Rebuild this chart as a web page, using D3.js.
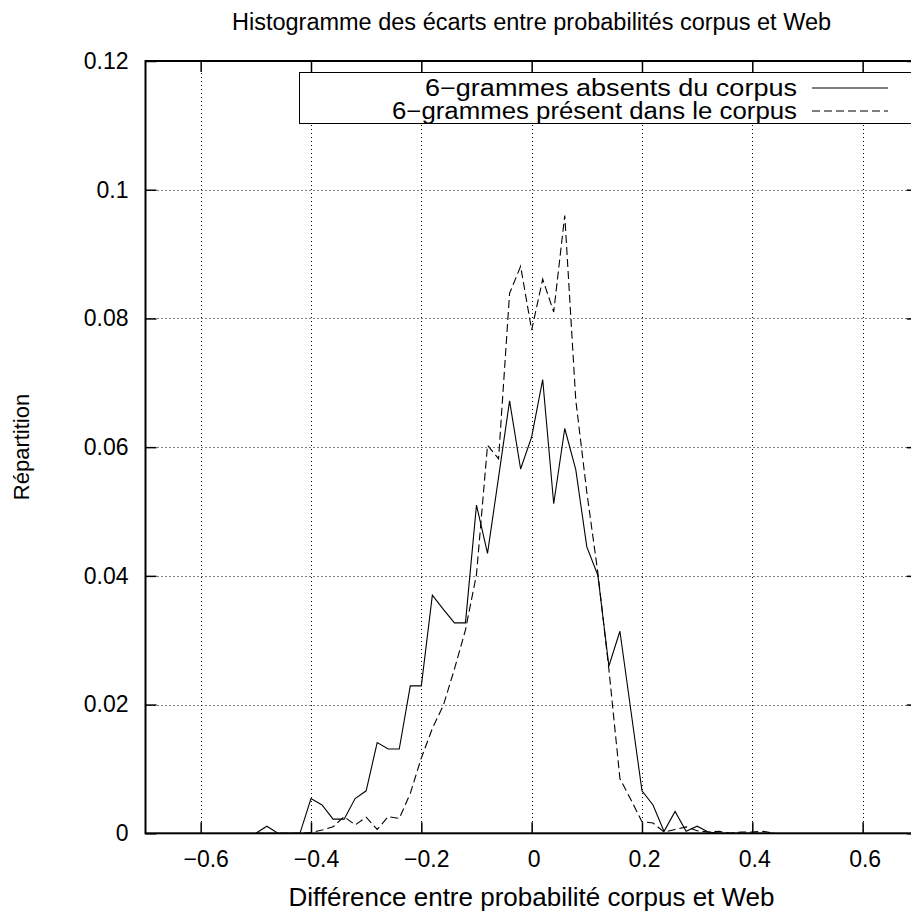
<!DOCTYPE html>
<html>
<head>
<meta charset="utf-8">
<script src="https://cdn.jsdelivr.net/npm/d3@7"></script>
<style>
  html, body { margin: 0; padding: 0; background: #fff; }
  svg { display: block; }
  text { font-family: "Liberation Sans", Arial, Helvetica, sans-serif; fill: #000; }
</style>
</head>
<body>
<svg id="chart" width="911" height="911"></svg>
<script>
// ---- data ----
const bins = [-0.50,-0.48,-0.46,-0.44,-0.42,-0.40,-0.38,-0.36,-0.34,-0.32,-0.30,-0.28,-0.26,-0.24,-0.22,-0.20,-0.18,-0.16,-0.14,-0.12,-0.10,-0.08,-0.06,-0.04,-0.02,0.00,0.02,0.04,0.06,0.08,0.10,0.12,0.14,0.16,0.18,0.20,0.22,0.24,0.26,0.28,0.30,0.32,0.34,0.36,0.38,0.40,0.42,0.44];
const absents = [0,0.0011,0,0,0,0.0054,0.0044,0.0022,0.0022,0.0054,0.0066,0.0141,0.0131,0.0131,0.0229,0.0229,0.0370,0.0348,0.0327,0.0327,0.0510,0.0435,0.0553,0.0672,0.0566,0.0616,0.0705,0.0512,0.0629,0.0565,0.0445,0.0401,0.0260,0.0314,0.0190,0.0066,0.0044,0.0003,0.0034,0.0003,0.0011,0.0002,0,0,0,0,0,0];
const presents = [0,0,0,0,0,0.0001,0.0005,0.0010,0.0026,0.0013,0.0025,0.0006,0.0026,0.0023,0.0062,0.0117,0.0163,0.0199,0.0255,0.0316,0.0402,0.0603,0.0582,0.0839,0.0881,0.0782,0.0861,0.0810,0.0960,0.0673,0.0530,0.0405,0.0255,0.0085,0.0052,0.0018,0.0016,0.0002,0.0006,0.0010,0.0004,0.0002,0.0003,0,0.0002,0.0002,0.0003,0];
const xTicks = [-0.6,-0.4,-0.2,0,0.2,0.4,0.6];
const xTickLabels = ["\u22120.6","\u22120.4","\u22120.2","0","0.2","0.4","0.6"];
const yTicks = [0,0.02,0.04,0.06,0.08,0.1,0.12];
const yTickLabels = ["0","0.02","0.04","0.06","0.08","0.1","0.12"];
const seriesNames = ["6\u2212grammes absents du corpus","6\u2212grammes présent dans le corpus"];
const titleText = "Histogramme des écarts entre probabilités corpus et Web";
const xLabel = "Différence entre probabilité corpus et Web";
const yLabel = "Répartition";

// ---- layout ----
const svg = d3.select("#chart");
const L = 145.5, R = 917.8, T = 61, B = 833.3;
const x = d3.scaleLinear().domain([-0.7, 0.7]).range([L, R]);
const y = d3.scaleLinear().domain([0, 0.12]).range([B, T]);

// grid
const grid = svg.append("g").attr("stroke", "#000").attr("stroke-width", 1).attr("stroke-dasharray", "1,3");
grid.selectAll("line.v").data(xTicks).join("line")
  .attr("x1", d => Math.round(x(d)) + 0.5).attr("x2", d => Math.round(x(d)) + 0.5)
  .attr("y1", T).attr("y2", B);
grid.selectAll("line.h").data(yTicks.slice(1, -1)).join("line")
  .attr("y1", d => Math.round(y(d)) + 0.5).attr("y2", d => Math.round(y(d)) + 0.5)
  .attr("x1", L).attr("x2", R);

// axes (inward ticks)
const tickLen = 11;
const axB = svg.append("g").attr("transform", `translate(0,${B})`)
  .call(d3.axisBottom(x).tickValues(xTicks).tickSize(-tickLen).tickPadding(tickLen + 6).tickFormat((d, i) => xTickLabels[i]));
const axT = svg.append("g").attr("transform", `translate(0,${T})`)
  .call(d3.axisTop(x).tickValues(xTicks).tickSize(-tickLen).tickFormat(""));
const axL = svg.append("g").attr("transform", `translate(${L},0)`)
  .call(d3.axisLeft(y).tickValues(yTicks).tickSize(-tickLen).tickPadding(tickLen + 6).tickFormat((d, i) => yTickLabels[i]));
const axR = svg.append("g").attr("transform", `translate(${R},0)`)
  .call(d3.axisRight(y).tickValues(yTicks).tickSize(-tickLen).tickFormat(""));
[axB, axT, axL, axR].forEach(a => {
  a.select(".domain").remove();
  a.selectAll(".tick line").attr("stroke", "#000").attr("stroke-width", 1.5);
  a.selectAll("text").attr("font-size", 23).attr("font-family", "Liberation Sans, Arial, sans-serif").attr("fill", "#000");
});
axB.selectAll(".tick text").attr("dx", d => d < 0 ? 5 : 2);

// frame
svg.append("rect").attr("x", L).attr("y", T).attr("width", R - L).attr("height", B - T)
  .attr("fill", "none").attr("stroke", "#000").attr("stroke-width", 2);

// lines
const line = d3.line().x(d => x(d[0])).y(d => y(d[1]));
svg.append("path").datum(bins.map((b, i) => [b, absents[i]]))
  .attr("d", line).attr("fill", "none").attr("stroke", "#000").attr("stroke-width", 1.1);
svg.append("path").datum(bins.map((b, i) => [b, presents[i]]))
  .attr("d", line).attr("fill", "none").attr("stroke", "#000").attr("stroke-width", 1.1).attr("stroke-dasharray", "8,4");

// legend
const lg = svg.append("g");
lg.append("rect").attr("x", 299.5).attr("y", 72.5).attr("width", 640).attr("height", 51)
  .attr("fill", "#fff").attr("stroke", "#000").attr("stroke-width", 1);
const rows = [88, 111];
const legendWidths = [372, 405];
seriesNames.forEach((name, i) => {
  lg.append("text").attr("x", 797).attr("y", rows[i]).attr("dy", "0.35em").attr("text-anchor", "end")
    .attr("font-size", 23).attr("textLength", legendWidths[i]).attr("lengthAdjust", "spacingAndGlyphs").text(name);
  lg.append("line").attr("x1", 812).attr("x2", 888).attr("y1", rows[i]).attr("y2", rows[i])
    .attr("stroke", "#000").attr("stroke-width", 1.1).attr("stroke-dasharray", i === 1 ? "8,4" : null);
});

// titles
svg.append("text").attr("x", 531.5).attr("y", 30).attr("text-anchor", "middle").attr("font-size", 23.5).text(titleText);
svg.append("text").attr("x", 531.5).attr("y", 906).attr("text-anchor", "middle").attr("font-size", 26).text(xLabel);
svg.append("text").attr("transform", "translate(29,447) rotate(-90)").attr("text-anchor", "middle").attr("font-size", 22).text(yLabel);
</script>
</body>
</html>
